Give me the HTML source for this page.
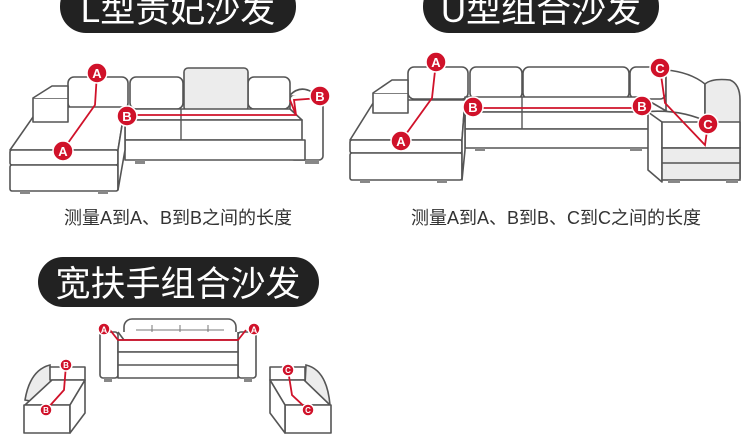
<!DOCTYPE html>
<html><head><meta charset="utf-8"><style>
html,body{margin:0;padding:0;background:#fff;width:750px;height:438px;overflow:hidden}
svg{display:block}
.t{font-family:"Liberation Sans","Noto Sans CJK SC",sans-serif}
</style></head><body>
<svg width="750" height="438" viewBox="0 0 750 438" xmlns="http://www.w3.org/2000/svg">
<defs>
<style>
.s{fill:#f7f7f7;stroke:#555;stroke-width:1.6;stroke-linejoin:round}
.w{fill:#fff;stroke:#555;stroke-width:1.6;stroke-linejoin:round}
.g{fill:#ececec;stroke:#555;stroke-width:1.6}
.r{fill:none;stroke:#d0122a;stroke-width:1.8}
.lbl{fill:#d0122a;stroke:#fff;stroke-width:1.5}
.lt{fill:#fff;font-family:"Liberation Sans",sans-serif;font-weight:bold;text-anchor:middle}
</style>
</defs>
<rect x="60" y="-20" width="236" height="53" rx="26" fill="#222"/>
<text x="178" y="22" class="t" font-size="35" fill="#fff" text-anchor="middle">L型贵妃沙发</text>
<rect x="423" y="-20" width="236" height="53" rx="26" fill="#222"/>
<text x="541" y="22" class="t" font-size="35" fill="#fff" text-anchor="middle">U型组合沙发</text>
<rect x="38" y="257" width="281" height="50" rx="25" fill="#222"/>
<text x="178" y="296" class="t" font-size="35" fill="#fff" text-anchor="middle">宽扶手组合沙发</text>

<g>
<rect x="290" y="95" width="33" height="65" rx="4" class="w"/>
<path d="M290 95 Q300 85 312 92 L323 100" class="w"/>
<rect x="68" y="77" width="60" height="32" rx="6" class="w"/>
<rect x="130" y="77" width="53" height="32" rx="6" class="w"/>
<rect x="248" y="77" width="42" height="32" rx="6" class="w"/>
<rect x="184" y="68" width="64" height="43" rx="4" class="g"/>
<path d="M125 109 L290 109 L302 120 L125 120 Z" class="w"/>
<rect x="125" y="120" width="177" height="20" class="w"/>
<line x1="181" y1="109" x2="181" y2="140" stroke="#555" stroke-width="1.4"/>
<rect x="125" y="140" width="180" height="20" class="w"/>
<rect x="135" y="160" width="10" height="4" fill="#888"/><rect x="305" y="160" width="14" height="4" fill="#888"/>
<path d="M10 150 L40 107 L125 107 L118 150 Z" class="w"/>
<rect x="33" y="98" width="35" height="24" class="w"/>
<path d="M33 98 L52 86 L68 86 L68 98" class="w"/>
<rect x="10" y="150" width="108" height="15" rx="2" class="w"/>
<rect x="10" y="165" width="108" height="26" rx="2" class="w"/>
<path d="M118 150 L125 107 L125 150 L118 190 Z" class="w"/>
<rect x="20" y="191" width="10" height="3" fill="#888"/><rect x="98" y="191" width="10" height="3" fill="#888"/>
<path d="M97 73 L95 105 L63 150" class="r"/>
<path d="M127 115 L296 115 L294 100 L320 98" class="r"/>
<line x1="296" y1="115" x2="290" y2="100" class="r"/>
<circle cx="97" cy="73" r="10" class="lbl"/><text x="97" y="78" class="lt" font-size="13">A</text>
<circle cx="63" cy="151" r="10" class="lbl"/><text x="63" y="156" class="lt" font-size="13">A</text>
<circle cx="127" cy="116" r="10" class="lbl"/><text x="127" y="121" class="lt" font-size="13">B</text>
<circle cx="320" cy="96" r="10" class="lbl"/><text x="320" y="101" class="lt" font-size="13">B</text>
</g>
<text x="178" y="224" class="t" font-size="18" fill="#333" text-anchor="middle">测量A到A、B到B之间的长度</text>

<g>
<rect x="408" y="67" width="60" height="32" rx="6" class="w"/>
<rect x="470" y="67" width="52" height="32" rx="6" class="w"/>
<rect x="523" y="67" width="106" height="32" rx="6" class="w"/>
<rect x="630" y="67" width="36" height="32" rx="6" class="w"/>
<path d="M666 70 Q690 72 705 84 L705 125 L666 125 Z" class="w"/>
<path d="M705 84 Q712 78 730 80 Q740 84 740 100 L740 178 L705 178 Z" class="g"/>
<path d="M465 97 L642 97 L668 112 L465 112 Z" class="w"/>
<rect x="465" y="112" width="197" height="17" class="w"/>
<line x1="522" y1="97" x2="522" y2="129" stroke="#555" stroke-width="1.4"/>
<rect x="465" y="129" width="197" height="19" class="w"/>
<path d="M642 112 Q680 108 710 123 L662 123 Z" class="w"/>
<path d="M648 112 L662 122 L662 182 L648 170 Z" class="w"/>
<rect x="662" y="122" width="78" height="26" class="w"/>
<rect x="662" y="148" width="78" height="32" class="g"/>
<line x1="662" y1="163" x2="740" y2="163" stroke="#555" stroke-width="1.4"/>
<rect x="668" y="180" width="12" height="3" fill="#888"/><rect x="726" y="180" width="12" height="3" fill="#888"/>
<rect x="475" y="148" width="10" height="3" fill="#888"/><rect x="630" y="148" width="12" height="3" fill="#888"/>
<path d="M350 140 L375 100 L465 100 L462 140 Z" class="w"/>
<rect x="373" y="93" width="35" height="20" class="w"/>
<path d="M373 93 L392 80 L408 80 L408 93" class="w"/>
<rect x="350" y="140" width="112" height="13" rx="2" class="w"/>
<rect x="350" y="153" width="112" height="27" rx="2" class="w"/>
<path d="M462 140 L465 100 L465 150 L462 180 Z" class="w"/>
<rect x="360" y="180" width="10" height="3" fill="#888"/><rect x="437" y="180" width="10" height="3" fill="#888"/>
<path d="M436 62 L432 98 L401 141" class="r"/>
<line x1="473" y1="108" x2="642" y2="108" class="r"/>
<path d="M660 68 L665 103 L705 145 L708 124" class="r"/>
<circle cx="436" cy="62" r="10" class="lbl"/><text x="436" y="67" class="lt" font-size="13">A</text>
<circle cx="401" cy="141" r="10" class="lbl"/><text x="401" y="146" class="lt" font-size="13">A</text>
<circle cx="473" cy="107" r="10" class="lbl"/><text x="473" y="112" class="lt" font-size="13">B</text>
<circle cx="642" cy="106" r="10" class="lbl"/><text x="642" y="111" class="lt" font-size="13">B</text>
<circle cx="660" cy="68" r="10" class="lbl"/><text x="660" y="73" class="lt" font-size="13">C</text>
<circle cx="708" cy="124" r="10" class="lbl"/><text x="708" y="129" class="lt" font-size="13">C</text>
</g>
<text x="556" y="224" class="t" font-size="18" fill="#333" text-anchor="middle">测量A到A、B到B、C到C之间的长度</text>

<g>
<rect x="124" y="319" width="112" height="22" rx="8" class="w"/>
<line x1="136" y1="330" x2="224" y2="330" stroke="#777" stroke-width="1"/>
<line x1="152" y1="325" x2="152" y2="335" stroke="#777"/><line x1="180" y1="325" x2="180" y2="335" stroke="#777"/><line x1="208" y1="325" x2="208" y2="335" stroke="#777"/>
<rect x="100" y="332" width="18" height="46" rx="3" class="w"/>
<rect x="238" y="332" width="18" height="46" rx="3" class="w"/>
<path d="M118 332 L124 340 L238 340 L238 332" class="w"/>
<rect x="118" y="340" width="120" height="12" class="w"/>
<rect x="118" y="352" width="120" height="26" class="w"/>
<line x1="118" y1="365" x2="238" y2="365" stroke="#555" stroke-width="1.4"/>
<rect x="104" y="378" width="8" height="4" fill="#888"/><rect x="244" y="378" width="8" height="4" fill="#888"/>
<path d="M110 330 L118 340 L238 340 L246 330" class="r"/>
<circle cx="104" cy="329" r="6" class="lbl"/><text x="104" y="333" class="lt" font-size="9">A</text>
<circle cx="254" cy="329" r="6" class="lbl"/><text x="254" y="333" class="lt" font-size="9">A</text>
</g>
<g>
<path d="M25 400 Q30 370 50 365 L52 405 Z" class="g"/>
<path d="M50 367 L85 367 L85 380 L50 380 Z" class="w"/>
<path d="M52 380 L85 380 L70 405 L25 405 Z" class="w"/>
<rect x="24" y="405" width="46" height="28" class="w"/>
<path d="M70 405 L85 380 L85 413 L70 433 Z" class="w"/>
<path d="M66 365 L64 390 L46 410" class="r"/>
<circle cx="66" cy="365" r="6" class="lbl"/><text x="66" y="368" class="lt" font-size="8">B</text>
<circle cx="46" cy="410" r="6" class="lbl"/><text x="46" y="413" class="lt" font-size="8">B</text>
</g>
<g>
<path d="M330 405 Q327 370 306 365 L304 405 Z" class="g"/>
<path d="M270 367 L305 367 L305 380 L270 380 Z" class="w"/>
<path d="M270 380 L304 380 L330 405 L285 405 Z" class="w"/>
<rect x="285" y="405" width="46" height="28" class="w"/>
<path d="M285 405 L270 380 L270 413 L285 433 Z" class="w"/>
<path d="M288 370 L292 395 L308 410" class="r"/>
<circle cx="288" cy="370" r="6" class="lbl"/><text x="288" y="373" class="lt" font-size="8">C</text>
<circle cx="308" cy="410" r="6" class="lbl"/><text x="308" y="413" class="lt" font-size="8">C</text>
</g>
</svg>
</body></html>
